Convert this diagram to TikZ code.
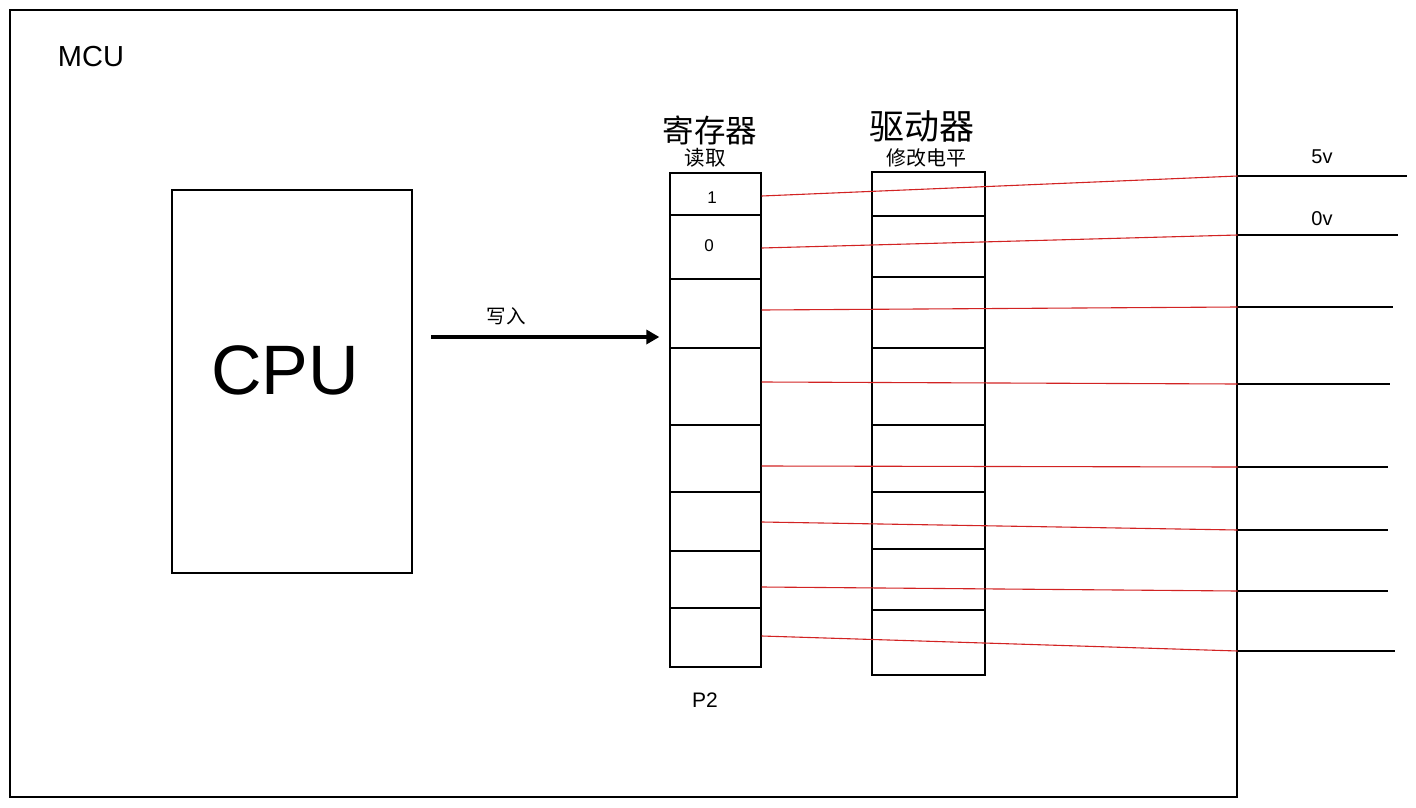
\documentclass[tikz,border=0pt]{standalone}
\usepackage{fontspec}
\setmainfont{Liberation Sans}
\newfontfamily\cjk{Noto Sans CJK SC}
\usetikzlibrary{arrows.meta, positioning}
\definecolor{wirered}{RGB}{210,35,35}
\tikzset{
  box/.style={draw, line width=1.3pt, inner sep=0pt},
  lbl/.style={inner sep=0pt, font=\fontsize{17}{17}\selectfont},
  wire/.style={wirered, line width=1.1pt},
  pin/.style={line width=1.3pt}
}

\begin{document}
\begin{tikzpicture}[x=1pt, y=-1pt, >={Triangle[length=13pt, width=14pt]}]
	\useasboundingbox (0,0) rectangle (1416,808);
	% MCU and CPU
	\node[box, minimum width=1227pt, minimum height=787pt] (mcu) at (623.5,403.5) {};
	\node[lbl, font=\fontsize{29}{29}\selectfont] (mcutxt) at (91,57) {MCU};
	\node[box, minimum width=240pt, minimum height=383pt] (cpu) at (292,381.5) {};
	\node[lbl, font=\fontsize{70}{70}\selectfont] (cputxt) at (285,370) {CPU};

	% register
	\node[box, minimum width=91pt, minimum height=494pt] (reg) at (715.5,420) {};
	\foreach \y in {215,279,348,425,492,551,608}
		\draw[line width=1.3pt] (reg.west |- 0,\y) -- (reg.east |- 0,\y);
	\node[lbl, font=\fontsize{31.5}{31.5}\cjk] (regname) at (710,130) {寄存器};
	\node[lbl, font=\fontsize{20.5}{20.5}\cjk] (regread) at (705,158) {读取};
	\node[lbl] (bit1) at (712,198) {1};
	\node[lbl] (bit0) at (709,246) {0};
	\node[lbl, font=\fontsize{21}{21}\selectfont] (port) at (705,700) {P2};

	% driver
	\node[box, minimum width=113pt, minimum height=503pt] (drv) at (928.5,423.5) {};
	\foreach \y in {216,277,348,425,492,549,610}
		\draw[line width=1.3pt] (drv.west |- 0,\y) -- (drv.east |- 0,\y);
	\node[lbl, font=\fontsize{35}{35}\cjk] (drvname) at (922,126) {驱动器};
	\node[lbl, font=\fontsize{20}{20}\cjk] (drvset) at (926,158) {修改电平};

	% write arrow
	\coordinate (wr) at (431,337);
	\draw[->, line width=3.5pt, shorten >=10pt] (wr) -- (reg.west |- wr);
	\node[lbl, font=\fontsize{19.5}{19.5}\cjk] (write) at (506,316) {写入};

	% pins
	\foreach \a/\b/\e [count=\i] in {196/176/1407, 248/235/1398, 310/307/1393, 382/384/1390,
			466/467/1388, 522/530/1388, 587/591/1388, 636/651/1395} {
		\coordinate (p\i) at (mcu.east |- 0,\b);
		\coordinate (q\i) at (\e,\b);
		\draw[wire] (reg.east |- 0,\a) -- (p\i);
		\draw[pin] (p\i) -- (q\i);
	}
	\node[lbl, font=\fontsize{20}{20}\selectfont] (high) at (1322,157) {5v};
	\node[lbl, font=\fontsize{20}{20}\selectfont] (low) at (1322,219) {0v};
\end{tikzpicture}
\end{document}
